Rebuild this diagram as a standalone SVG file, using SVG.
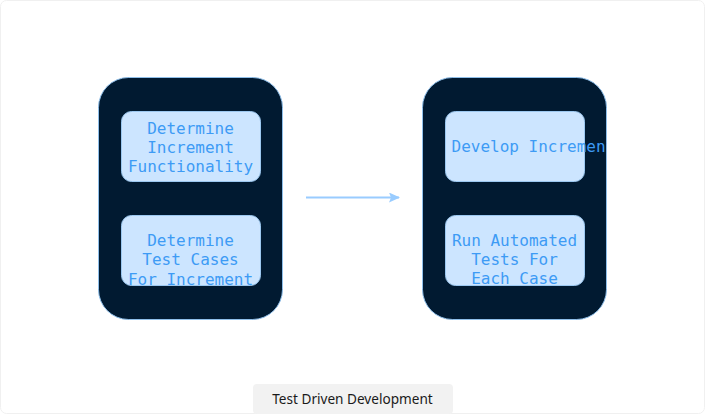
<svg xmlns="http://www.w3.org/2000/svg" width="705" height="414" viewBox="0 0 705 414">
<style>
.outer{fill:#011a31;stroke:#8fbfea;stroke-width:1}
.inner{fill:#cce5ff;stroke:#9cc8f0;stroke-width:1}
.lbl{font-family:"DejaVu Sans Mono","Liberation Mono",monospace;font-size:16px;fill:#3d9bf5;text-anchor:middle}
.cap{font-family:"Noto Sans","Open Sans",sans-serif;font-size:13.6px;fill:#1a1a1a;text-anchor:middle}
</style>
<defs>
<marker id="ah" markerWidth="11" markerHeight="10" refX="10" refY="5" orient="auto" markerUnits="userSpaceOnUse">
<path d="M0,0 L11,5 L0,10 L2,5 Z" fill="#99ccff"/>
</marker>
<clipPath id="c1"><rect x="98" y="215" width="185" height="70"/></clipPath>
<clipPath id="c2"><rect x="422" y="111" width="185" height="70"/></clipPath>
<clipPath id="c3"><rect x="422" y="215" width="185" height="70"/></clipPath>
</defs>
<rect x="0.5" y="0.5" width="704" height="413" rx="6" fill="#ffffff" stroke="#f0f0f0"/>
<g id="group-left">
<rect class="outer" x="98.5" y="77.5" width="184" height="242" rx="30"/>
</g>
<g id="node-determine-functionality">
<rect class="inner" x="121.5" y="111.5" width="139" height="70" rx="10"/>
<text class="lbl" x="190.5" y="133.5">Determine</text>
<text class="lbl" x="190.5" y="152.7">Increment</text>
<text class="lbl" x="190.5" y="172">Functionality</text>
</g>
<g id="node-determine-test-cases">
<rect class="inner" x="121.5" y="215.5" width="139" height="70" rx="10"/>
<g clip-path="url(#c1)">
<text class="lbl" x="190.5" y="246">Determine</text>
<text class="lbl" x="190.5" y="265.2">Test Cases</text>
<text class="lbl" x="190.5" y="284.5">For Increment</text>
</g>
</g>
<g id="group-right">
<rect class="outer" x="422.5" y="77.5" width="184" height="242" rx="30"/>
</g>
<g id="node-develop-increment">
<rect class="inner" x="445.5" y="111.5" width="139" height="70" rx="10"/>
<g clip-path="url(#c2)">
<text class="lbl" x="451.5" y="152" style="text-anchor:start">Develop Increment</text>
</g>
</g>
<g id="node-run-tests">
<rect class="inner" x="445.5" y="215.5" width="139" height="70" rx="10"/>
<g clip-path="url(#c3)">
<text class="lbl" x="514.5" y="245.5">Run Automated</text>
<text class="lbl" x="514.5" y="264.7">Tests For</text>
<text class="lbl" x="514.5" y="284">Each Case</text>
</g>
</g>
<g id="connectors">
<line x1="306" y1="197.5" x2="399" y2="197.5" stroke="#99ccff" stroke-width="2" marker-end="url(#ah)"/>
</g>
<g id="caption">
<rect x="253" y="384" width="200" height="30" rx="4" fill="#f2f2f2"/>
<text class="cap" x="352.5" y="404">Test Driven Development</text>
</g>
</svg>
